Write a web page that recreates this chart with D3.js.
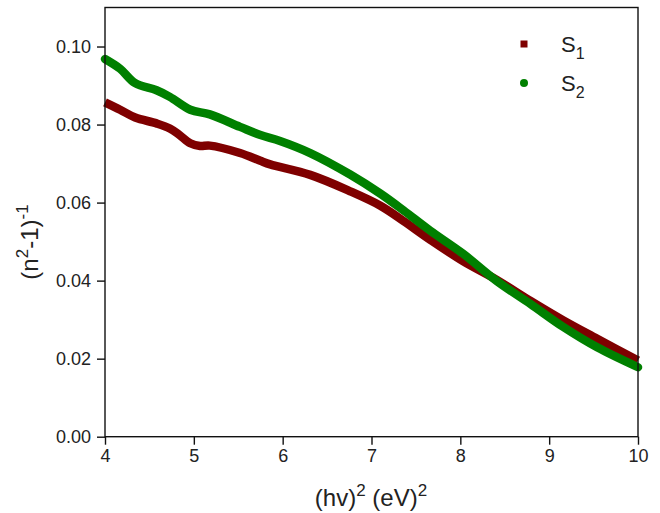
<!DOCTYPE html>
<html>
<head>
<meta charset="utf-8">
<script src="https://cdn.jsdelivr.net/npm/d3@7"></script>
<style>
  body { margin: 0; background: #fff; }
  text { font-family: Arial, "Liberation Sans", sans-serif; fill: #222; }
</style>
</head>
<body>
<div id="chart"></div>
<script>
var width = 660, height = 513;
var margin = {top: 7.5, right: 22, bottom: 76.3, left: 105};

// values
var xS1 = [4.0, 4.17, 4.34, 4.58, 4.73, 4.84, 4.96, 5.07, 5.18, 5.52, 5.75, 5.86, 6.31, 6.76, 7.10, 7.36, 7.66, 8.03, 8.41, 8.79, 9.16, 9.54, 10.0];
var yS1 = [0.0857, 0.0838, 0.0818, 0.0803, 0.0790, 0.0773, 0.0752, 0.0745, 0.0746, 0.0727, 0.0707, 0.0698, 0.0671, 0.0629, 0.0592, 0.0553, 0.0505, 0.0450, 0.0402, 0.0348, 0.0298, 0.0251, 0.0195];
var xS2 = [4.0, 4.17, 4.34, 4.58, 4.73, 4.96, 5.18, 5.52, 5.75, 5.97, 6.31, 6.76, 7.10, 7.36, 7.66, 8.03, 8.41, 8.79, 9.16, 9.54, 10.0];
var yS2 = [0.0968, 0.0943, 0.0906, 0.0888, 0.0871, 0.0838, 0.0826, 0.0794, 0.0773, 0.0758, 0.0727, 0.0672, 0.0623, 0.0580, 0.0528, 0.0469, 0.0399, 0.0340, 0.0281, 0.0229, 0.0178];
var xTicks = [4, 5, 6, 7, 8, 9, 10];
var yTicks = [0.00, 0.02, 0.04, 0.06, 0.08, 0.10];

var svg = d3.select("#chart").append("svg")
    .attr("width", width).attr("height", height);

var x = d3.scaleLinear().domain([4, 10]).range([margin.left, width - margin.right]);
var y = d3.scaleLinear().domain([0, 0.11]).range([height - margin.bottom, margin.top]);

var series = [
  {name: "1", xs: xS1, ys: yS1, color: "#7f0000", cap: "butt"},
  {name: "2", xs: xS2, ys: yS2, color: "#008000", cap: "round"}
];

var line = d3.line()
    .x(d => x(d[0])).y(d => y(d[1]))
    .curve(d3.curveCatmullRom.alpha(0.5));

svg.append("g").selectAll("path")
  .data(series)
  .enter().append("path")
    .attr("d", s => line(s.xs.map((v, i) => [v, s.ys[i]])))
    .attr("fill", "none")
    .attr("stroke", s => s.color)
    .attr("stroke-width", 8.5)
    .attr("stroke-linecap", s => s.cap)
    .attr("stroke-linejoin", "round");

// frame
svg.append("rect")
    .attr("x", x(4)).attr("y", y(0.11))
    .attr("width", x(10) - x(4)).attr("height", y(0) - y(0.11))
    .attr("fill", "none").attr("stroke", "#111").attr("stroke-width", 1.4);

// x axis
var xAxis = svg.append("g").attr("transform", "translate(0," + y(0) + ")");
xAxis.call(d3.axisBottom(x).tickValues(d3.range(4, 10.01, 0.5)).tickSize(4).tickFormat(""));
xAxis.call(d3.axisBottom(x).tickValues(xTicks).tickSize(8).tickPadding(5).tickFormat(d3.format("d")));
xAxis.selectAll(".domain").remove();
xAxis.selectAll("line").attr("stroke", "#111").attr("stroke-width", 1.4);
xAxis.selectAll("text").style("font-size", "18px").attr("fill", "#222");

// y axis
var yAxis = svg.append("g").attr("transform", "translate(" + x(4) + ",0)");
yAxis.call(d3.axisLeft(y).tickValues(d3.range(0, 0.1101, 0.01)).tickSize(4).tickFormat(""));
yAxis.call(d3.axisLeft(y).tickValues(yTicks).tickSize(8).tickPadding(6).tickFormat(d3.format(".2f")));
yAxis.selectAll(".domain").remove();
yAxis.selectAll("line").attr("stroke", "#111").attr("stroke-width", 1.4);
yAxis.selectAll("text").style("font-size", "18px").attr("fill", "#222");

// axis titles
var xt = svg.append("text")
    .attr("x", 371).attr("y", 506)
    .attr("text-anchor", "middle").style("font-size", "24px");
xt.append("tspan").text("(hv)");
xt.append("tspan").attr("dy", -10).style("font-size", "17px").text("2");
xt.append("tspan").attr("dy", 10).text(" (eV)");
xt.append("tspan").attr("dy", -10).style("font-size", "17px").text("2");

var yt = svg.append("text")
    .attr("transform", "translate(38," + 242 + ") rotate(-90)")
    .attr("text-anchor", "middle").style("font-size", "24px");
yt.append("tspan").text("(n");
yt.append("tspan").attr("dy", -10).style("font-size", "17px").text("2");
yt.append("tspan").attr("dy", 10).text("-1)");
yt.append("tspan").attr("dy", -10).style("font-size", "17px").text("-1");

// legend
var legend = svg.append("g");
series.forEach(function(s, i) {
  var ly = 44 + i * 39;
  if (i === 0) {
    legend.append("rect").attr("x", 520.5).attr("y", ly - 3.5)
      .attr("width", 7).attr("height", 7).attr("fill", s.color);
  } else {
    legend.append("circle").attr("cx", 524).attr("cy", ly).attr("r", 4).attr("fill", s.color);
  }
  var t = legend.append("text").attr("x", 561).attr("y", ly + 8).style("font-size", "22px");
  t.append("tspan").text("S");
  t.append("tspan").attr("dy", 7).style("font-size", "16px").text(s.name);
});
</script>
</body>
</html>
